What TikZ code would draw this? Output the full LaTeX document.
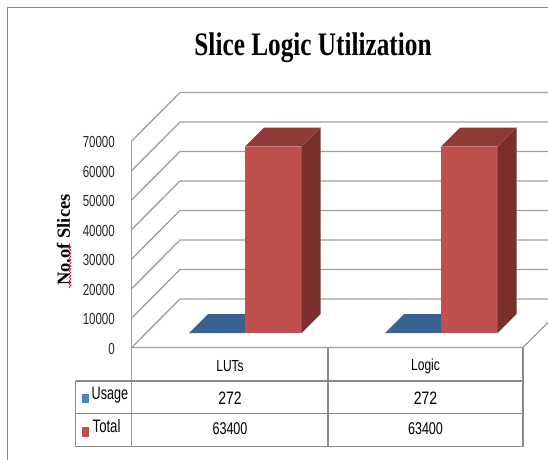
\documentclass[tikz,border=0pt]{standalone}
\usepackage{fontspec}
\setmainfont{Liberation Serif}
\newfontfamily\chartsans{Liberation Sans}
\usetikzlibrary{decorations.pathmorphing}
\tikzset{>=stealth}

\definecolor{gridgray}{HTML}{9E9E9E}
\definecolor{framegray}{HTML}{8A8A8A}
\definecolor{usageblue}{HTML}{4F81BD}
\definecolor{usagetop}{HTML}{3A6290}
\definecolor{totalred}{HTML}{C0504D}
\definecolor{totalside}{HTML}{7A2F2D}
\definecolor{totaltop}{HTML}{903A37}

\newcommand{\narrowtxt}[2][0.75]{\scalebox{#1}[1]{#2}}

\tikzset{
  gridline/.style={draw=gridgray, line width=1.3pt},
  tableline/.style={draw=framegray, line width=1.2pt},
  ticklabel/.style={font=\chartsans\fontsize{16}{16}\selectfont, text=black!85, anchor=east, inner sep=0pt},
  catlabel/.style={font=\chartsans\fontsize{16}{16}\selectfont, inner sep=0pt},
  celltext/.style={font=\chartsans\fontsize{18}{18}\selectfont, anchor=base, inner sep=0pt},
}

\begin{document}
\begin{tikzpicture}[x=1pt, y=-1pt]
    \path[use as bounding box] (0,0) rectangle (548,459);
    \clip (0,0) rectangle (548,459);
    % chart frame
    \draw[framegray, line width=1.2pt] (7.5,470) -- (7.5,7.5) -- (560,7.5);
    \node[font=\bfseries\fontsize{32.8}{36}\selectfont, anchor=base, inner sep=0pt] (title) at (313,55) {\narrowtxt[0.77]{Slice Logic Utilization}};
    % walls and floor
    \foreach \k in {0,...,7} {
        \draw[gridline] (560,{299-\k*29.5}) -- (180,{299-\k*29.5}) -- (131.7,{347.5-\k*29.5});
    }
    \foreach \k/\v in {0/0,1/10000,2/20000,3/30000,4/40000,5/50000,6/60000,7/70000} {
        \node[ticklabel] (tick\k) at (115,{348.5-\k*29.5}) {\narrowtxt[0.72]{\v}};
    }
    \draw[gridline] (131.7,141) -- (131.7,446.7);
    \draw[gridline] (131.7,347.5) -- (523,347.5) -- ++(48.5,-48.5);
    \node[rotate=90, font=\bfseries\fontsize{18.5}{20}\selectfont, inner sep=0pt] (ytitle) at (63.5,240) {No.of Slices};
    \draw[red, line width=0.6pt, decorate, decoration={snake, amplitude=0.9pt, segment length=3.2pt}] (70,288) -- (70,246);
    % bars: usage is almost flat, total is the red block
    \foreach \bx in {189,385} {
        \fill[usagetop] (\bx,333) -- ++(19,-19) -- ++(56,0) -- ++(-19,19) -- cycle;
        \fill[totalred] (\bx+56,333) rectangle ++(56.5,-186.3);
        \fill[totalside] (\bx+112.5,333) -- ++(19,-19) -- ++(0,-186.3) -- ++(-19,19) -- cycle;
        \fill[totaltop] (\bx+56,146.7) -- ++(19,-19) -- ++(56.5,0) -- ++(-19,19) -- cycle;
    }
    % data table
    \draw[tableline] (328,347.5) -- (328,446.7);
    \draw[tableline] (523,347.5) -- (523,446.7);
    \draw[tableline] (75.7,381) -- (523,381);
    \draw[tableline] (75.7,413.3) -- (523,413.3);
    \draw[tableline] (75.7,446.7) -- (523,446.7);
    \draw[tableline] (75.7,381) -- (75.7,446.7);
    \node[catlabel] (luts) at (230,366) {\narrowtxt{LUTs}};
    \node[catlabel] (logic) at (425.5,366) {\narrowtxt{Logic}};
    \fill[usageblue] (81.7,394) rectangle (89,403.3);
    \fill[totalred] (82,426.5) rectangle (89,437);
    \node[celltext, anchor=base west] (usage) at (91.5,399.3) {\narrowtxt[0.7]{Usage}};
    \node[celltext, anchor=base west] (total) at (92.5,432) {\narrowtxt[0.73]{Total}};
    \node[celltext] (usageluts) at (230,404) {\narrowtxt[0.78]{272}};
    \node[celltext] (usagelogic) at (425.5,404) {\narrowtxt[0.78]{272}};
    \node[celltext, font=\chartsans\fontsize{17}{17}\selectfont] (totalluts) at (230,434) {\narrowtxt[0.74]{63400}};
    \node[celltext, font=\chartsans\fontsize{17}{17}\selectfont] (totallogic) at (425.5,434) {\narrowtxt[0.74]{63400}};
\end{tikzpicture}
\end{document}
